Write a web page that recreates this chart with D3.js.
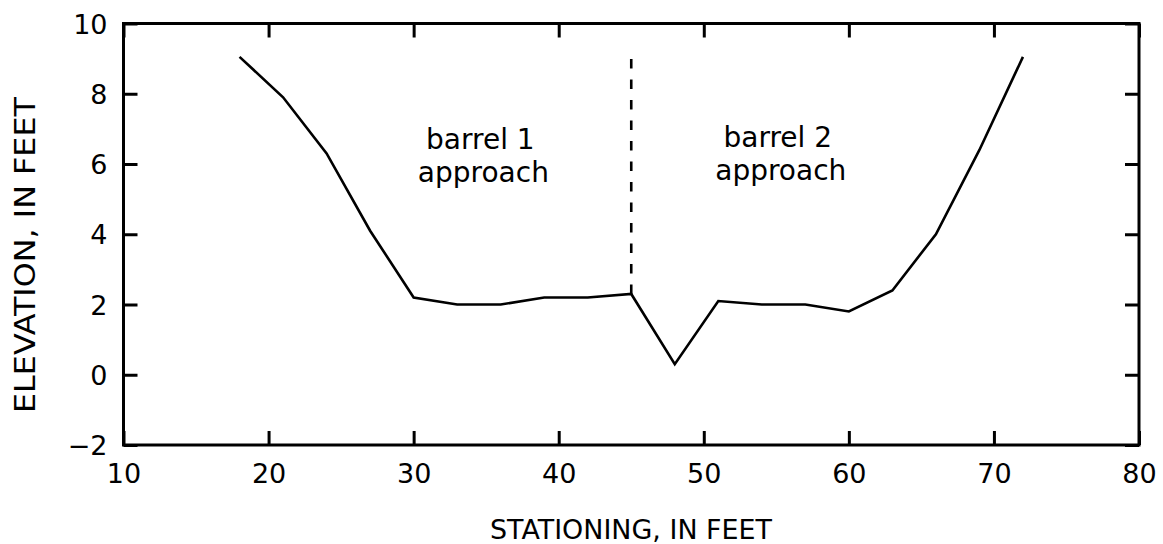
<!DOCTYPE html>
<html>
<head>
<meta charset="utf-8">
<script src="https://cdn.jsdelivr.net/npm/d3@7"></script>
<style>
  html, body { margin: 0; padding: 0; background: #fff; }
  svg { display: block; }
  text { font-family: "DejaVu Sans", "Liberation Sans", sans-serif; fill: #000; }
</style>
</head>
<body>
<script>
// ---- data ----
const stationing = [18, 21, 24, 27, 30, 33, 36, 39, 42, 45, 48, 51, 54, 57, 60, 63, 66, 69, 72];
const elevation  = [9.05, 7.9, 6.3, 4.1, 2.2, 2.0, 2.0, 2.2, 2.2, 2.3, 0.3, 2.1, 2.0, 2.0, 1.8, 2.4, 4.0, 6.4, 9.05];
const dividerStation = 45;
const dividerTop = 9.0;
const xTicks = [10, 20, 30, 40, 50, 60, 70, 80];
const yTicks = [-2, 0, 2, 4, 6, 8, 10];
const labelLines = [["barrel 1", "approach"], ["barrel 2", "approach"]];
const xTitle = "STATIONING, IN FEET";
const yTitle = "ELEVATION, IN FEET";

// ---- layout ----
const W = 1163, H = 544;
const m = { left: 123.5, right: 1139, top: 23.5, bottom: 445 };

const svg = d3.select("body").append("svg").attr("width", W).attr("height", H);

const x = d3.scaleLinear().domain([10, 80]).range([m.left, m.right]);
const y = d3.scaleLinear().domain([-2, 10]).range([m.bottom, m.top]);

const tickLen = 14;
const axW = 3;
const fs = 27;

// frame
svg.append("rect")
  .attr("x", x(10)).attr("y", y(10))
  .attr("width", x(80) - x(10)).attr("height", y(-2) - y(10))
  .attr("fill", "none").attr("stroke", "#000").attr("stroke-width", axW);

// axes via d3 (inward ticks)
const gxB = svg.append("g").attr("transform", `translate(0,${m.bottom})`)
  .call(d3.axisBottom(x).tickValues(xTicks).tickSize(-tickLen).tickPadding(16).tickFormat(d3.format("d")));
const gxT = svg.append("g").attr("transform", `translate(0,${m.top})`)
  .call(d3.axisTop(x).tickValues(xTicks).tickSize(-tickLen).tickFormat(""));
const gyL = svg.append("g").attr("transform", `translate(${m.left},0)`)
  .call(d3.axisLeft(y).tickValues(yTicks).tickSize(-tickLen).tickPadding(16).tickFormat(d => d < 0 ? "\u2212" + Math.abs(d) : d));
const gyR = svg.append("g").attr("transform", `translate(${m.right},0)`)
  .call(d3.axisRight(y).tickValues(yTicks).tickSize(-tickLen).tickFormat(""));

[gxB, gxT, gyL, gyR].forEach(g => {
  g.attr("font-size", fs).attr("font-family", '"DejaVu Sans", sans-serif');
  g.select(".domain").remove();
  g.selectAll(".tick line").attr("stroke", "#000").attr("stroke-width", axW);
  g.selectAll("text").attr("fill", "#000");
});
gxB.selectAll("text").attr("dy", null).attr("y", 38);
gyL.selectAll("text").attr("dy", "0.36em");

// profile line
const line = d3.line().x((d, i) => x(stationing[i])).y(d => y(d));
svg.append("path")
  .datum(elevation)
  .attr("d", line)
  .attr("fill", "none").attr("stroke", "#000").attr("stroke-width", 2.6)
  .attr("stroke-linejoin", "miter");

// divider
svg.append("line")
  .attr("x1", x(dividerStation)).attr("x2", x(dividerStation))
  .attr("y1", y(elevation[stationing.indexOf(dividerStation)])).attr("y2", y(dividerTop))
  .attr("stroke", "#000").attr("stroke-width", 2.6)
  .attr("stroke-dasharray", "9.5,11");

// labels
const labelPos = [[34.6, 149], [55.1, 147]];
labelLines.forEach((lines, k) => {
  const t = svg.append("text").attr("text-anchor", "middle").attr("font-size", 28);
  lines.forEach((s, j) => {
    t.append("tspan").attr("x", x(labelPos[k][0]) + (j === 1 ? 3 : 0))
      .attr("y", labelPos[k][1] + j * 33).text(s);
  });
});

// axis titles
svg.append("text")
  .attr("x", 631).attr("y", 539)
  .attr("text-anchor", "middle").attr("font-size", 26)
  .attr("textLength", 282).attr("lengthAdjust", "spacingAndGlyphs")
  .text(xTitle);
svg.append("text")
  .attr("transform", `translate(35,255) rotate(-90)`)
  .attr("text-anchor", "middle").attr("font-size", 28)
  .attr("textLength", 316).attr("lengthAdjust", "spacingAndGlyphs")
  .text(yTitle);
</script>
</body>
</html>
